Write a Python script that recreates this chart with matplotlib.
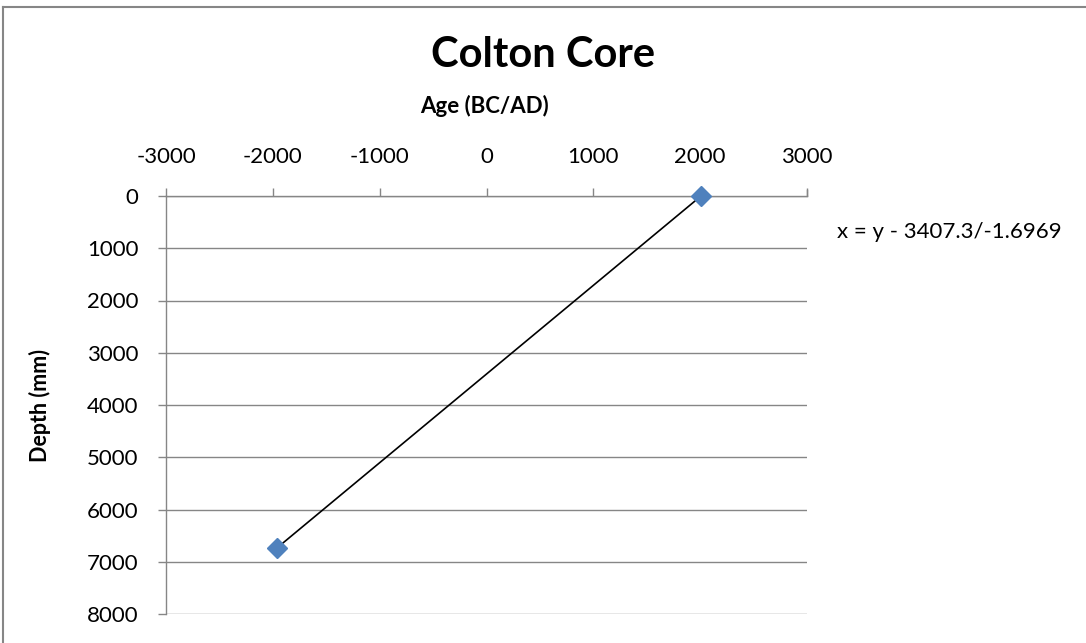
import numpy as np
import matplotlib.pyplot as plt
from matplotlib.lines import Line2D

plt.rcParams['font.family'] = ['Lato', 'DejaVu Sans']
plt.rcParams['axes.unicode_minus'] = False

# data (age in BC/AD, depth in mm)
age = [2008, -1965]
depth = [0, 6742]
x_ticks = [-3000, -2000, -1000, 0, 1000, 2000, 3000]
y_ticks = [0, 1000, 2000, 3000, 4000, 5000, 6000, 7000, 8000]
eq_text = "x = y - 3407.3/-1.6969"

W, H = 1086, 643
fig = plt.figure(figsize=(W / 100, H / 100), dpi=100)
ax = fig.add_axes([166 / W, 1 - 614 / H, (807 - 166) / W, (614 - 196) / H])

grey = '#868686'
ax.plot(age, depth, color='black', lw=1.2, zorder=3, clip_on=False)
ax.plot(age, depth, ls='none', marker='D', ms=10, color='#4F81BD', zorder=4,
        clip_on=False)

ax.set_xlim(-3000, 3000)
ax.set_ylim(8000, 0)
ax.set_xticks(x_ticks)
ax.set_yticks(y_ticks)
ax.xaxis.tick_top()
ax.tick_params(axis='x', direction='out', length=6, width=1, color=grey,
               labelsize=16, pad=15, labelcolor='black')
ax.tick_params(axis='y', direction='out', length=6, width=1, color=grey,
               labelsize=16, pad=14, labelcolor='black')
ax.yaxis.grid(True, color=grey, lw=1)
ax.set_axisbelow(True)

for s in ['right', 'bottom']:
    ax.spines[s].set_visible(False)
for s in ['left', 'top']:
    ax.spines[s].set_color(grey)
    ax.spines[s].set_linewidth(1)

# small tick at right end of top axis
ax.plot([1, 1], [1, 1.015], transform=ax.transAxes, color=grey, lw=1, clip_on=False)

fig.text(485 / W, 1 - 106 / H, 'Age (BC/AD)', fontsize=16, fontweight='bold',
         ha='center', va='center')
fig.text(40 / W, 1 - 405 / H, 'Depth (mm)', fontsize=15.5, fontweight='bold',
         ha='center', va='center', rotation=90)

fig.text(543 / W, 1 - 55 / H, 'Colton Core', fontsize=30, fontweight='bold',
         ha='center', va='center')
fig.text(837 / W, 1 - 232 / H, eq_text, fontsize=16, ha='left', va='center')

# outer chart border (top and left visible)
fig.add_artist(Line2D([3 / W, 1], [1 - 7 / H, 1 - 7 / H], color=grey, lw=1.5,
                      transform=fig.transFigure))
fig.add_artist(Line2D([3 / W, 3 / W], [0, 1 - 7 / H], color=grey, lw=1.5,
                      transform=fig.transFigure))

fig.savefig('out.png', dpi=100)
